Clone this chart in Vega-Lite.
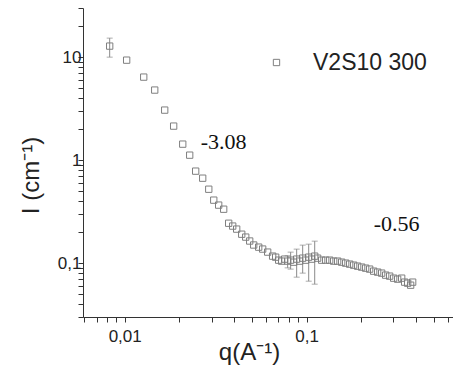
{
  "$schema": "https://vega.github.io/schema/vega-lite/v6.json",
  "width": 370,
  "height": 309,
  "autosize": "none",
  "padding": {"left": 83, "top": 8, "right": 0, "bottom": 54},
  "background": "white",
  "config": {
    "view": {"stroke": null},
    "axis": {"grid": false, "domainColor": "#333", "tickColor": "#333", "labelColor": "#222", "titleColor": "#222", "labelFont": "Liberation Sans", "labelFontSize": 17, "titleFont": "Liberation Sans", "titleFontSize": 24, "titleFontWeight": "normal"}
  },
  "datasets": {
    "pts": [
      {"q": 0.00827, "I": 12.8, "lo": 10.0, "hi": 15.3},
      {"q": 0.01025, "I": 9.35},
      {"q": 0.01272, "I": 6.40},
      {"q": 0.01462, "I": 4.79},
      {"q": 0.01659, "I": 3.06},
      {"q": 0.01858, "I": 2.14},
      {"q": 0.02084, "I": 1.43},
      {"q": 0.02276, "I": 1.118},
      {"q": 0.02455, "I": 0.782},
      {"q": 0.02683, "I": 0.668},
      {"q": 0.02897, "I": 0.522},
      {"q": 0.03086, "I": 0.409},
      {"q": 0.03284, "I": 0.366},
      {"q": 0.03499, "I": 0.334},
      {"q": 0.03727, "I": 0.244},
      {"q": 0.03922, "I": 0.229},
      {"q": 0.04124, "I": 0.214},
      {"q": 0.04396, "I": 0.191},
      {"q": 0.04624, "I": 0.179},
      {"q": 0.04863, "I": 0.164},
      {"q": 0.05116, "I": 0.150},
      {"q": 0.05449, "I": 0.143},
      {"q": 0.05731, "I": 0.137},
      {"q": 0.06105, "I": 0.128},
      {"q": 0.06501, "I": 0.117},
      {"q": 0.06755, "I": 0.1143},
      {"q": 0.07017, "I": 0.1069},
      {"q": 0.07287, "I": 0.1046},
      {"q": 0.07568, "I": 0.1094},
      {"q": 0.07861, "I": 0.1046, "lo": 0.090, "hi": 0.118},
      {"q": 0.08165, "I": 0.1069, "lo": 0.0875, "hi": 0.1279},
      {"q": 0.08482, "I": 0.1022},
      {"q": 0.08811, "I": 0.1094, "lo": 0.0731, "hi": 0.1368},
      {"q": 0.09152, "I": 0.1046},
      {"q": 0.09507, "I": 0.1118, "lo": 0.0800, "hi": 0.1496},
      {"q": 0.09874, "I": 0.1069},
      {"q": 0.1026, "I": 0.1143, "lo": 0.0668, "hi": 0.1529},
      {"q": 0.1065, "I": 0.1094},
      {"q": 0.1107, "I": 0.1169, "lo": 0.0625, "hi": 0.1635},
      {"q": 0.1149, "I": 0.1118},
      {"q": 0.1209, "I": 0.1069},
      {"q": 0.1272, "I": 0.1069},
      {"q": 0.1338, "I": 0.1069},
      {"q": 0.1407, "I": 0.1046},
      {"q": 0.1480, "I": 0.1046},
      {"q": 0.1557, "I": 0.1022},
      {"q": 0.1638, "I": 0.1000},
      {"q": 0.1723, "I": 0.0978},
      {"q": 0.1812, "I": 0.0956},
      {"q": 0.1906, "I": 0.0935},
      {"q": 0.2005, "I": 0.0915},
      {"q": 0.2109, "I": 0.0894},
      {"q": 0.2219, "I": 0.0875},
      {"q": 0.2334, "I": 0.0836},
      {"q": 0.2455, "I": 0.0818},
      {"q": 0.2583, "I": 0.0800},
      {"q": 0.2717, "I": 0.0765},
      {"q": 0.2858, "I": 0.0748},
      {"q": 0.3006, "I": 0.0715},
      {"q": 0.3162, "I": 0.0699},
      {"q": 0.3327, "I": 0.0715},
      {"q": 0.3455, "I": 0.0654},
      {"q": 0.3589, "I": 0.0639},
      {"q": 0.3727, "I": 0.0611},
      {"q": 0.3823, "I": 0.0654}
    ],
    "notes": [
      {"q": 0.035, "I": 1.5, "t": "-3.08"},
      {"q": 0.312, "I": 0.239, "t": "-0.56"}
    ]
  },
  "layer": [
    {
      "data": {"name": "pts"},
      "transform": [{"filter": "isValid(datum.lo)"}],
      "mark": {"type": "rule", "color": "#8a8a8a", "strokeWidth": 1},
      "encoding": {
        "x": {"field": "q", "type": "quantitative", "scale": {"type": "log", "domain": [0.0059, 0.637], "nice": false}},
        "y": {"field": "lo", "type": "quantitative", "scale": {"type": "log", "domain": [0.03, 30], "nice": false}},
        "y2": {"field": "hi"}
      }
    },
    {
      "data": {"name": "pts"},
      "transform": [{"filter": "isValid(datum.lo)"}],
      "mark": {"type": "tick", "orient": "horizontal", "color": "#8a8a8a", "thickness": 1, "size": 6},
      "encoding": {
        "x": {"field": "q", "type": "quantitative"},
        "y": {"field": "lo", "type": "quantitative"}
      }
    },
    {
      "data": {"name": "pts"},
      "transform": [{"filter": "isValid(datum.lo)"}],
      "mark": {"type": "tick", "orient": "horizontal", "color": "#8a8a8a", "thickness": 1, "size": 6},
      "encoding": {
        "x": {"field": "q", "type": "quantitative"},
        "y": {"field": "hi", "type": "quantitative"}
      }
    },
    {
      "data": {"name": "pts"},
      "mark": {"type": "point", "filled": false, "strokeWidth": 1, "size": 40, "opacity": 1},
      "encoding": {
        "x": {"field": "q", "type": "quantitative",
          "axis": {
            "values": [0.006, 0.007, 0.008, 0.009, 0.01, 0.02, 0.03, 0.04, 0.05, 0.06, 0.07, 0.08, 0.09, 0.1, 0.2, 0.3, 0.4, 0.5, 0.6],
            "labelExpr": "datum.value == 0.01 ? '0,01' : (datum.value == 0.1 ? '0,1' : '')",
            "labelOverlap": false, "labelFlush": false, "labelPadding": 6, "tickSize": 5,
            "title": "q(A⁻¹)", "titleX": 166, "titleY": 42, "titleAlign": "center", "titleBaseline": "alphabetic"
          }},
        "y": {"field": "I", "type": "quantitative",
          "axis": {
            "values": [0.03, 0.04, 0.05, 0.06, 0.07, 0.08, 0.09, 0.1, 0.2, 0.3, 0.4, 0.5, 0.6, 0.7, 0.8, 0.9, 1, 2, 3, 4, 5, 6, 7, 8, 9, 10, 20, 30],
            "labelExpr": "datum.value == 0.1 ? '0,1' : (datum.value == 1 ? '1' : (datum.value == 10 ? '10' : ''))",
            "labelOverlap": false, "labelFlush": false, "labelPadding": -3, "tickSize": 5,
            "title": "I (cm⁻¹)", "titleX": -45, "titleY": 167, "titleAngle": 270, "titleAlign": "center", "titleBaseline": "alphabetic"
          }},
        "color": {"datum": "V2S10 300", "type": "nominal", "scale": {"range": ["#7f7f7f"]},
          "legend": {"orient": "none", "legendX": 182, "legendY": 43, "title": null, "symbolType": "square", "symbolSize": 40, "symbolStrokeWidth": 1, "labelFont": "Liberation Sans", "labelFontSize": 23, "labelColor": "#222", "labelOffset": 25, "padding": 0}},
        "shape": {"value": "square"}
      }
    },
    {
      "data": {"name": "notes"},
      "mark": {"type": "text", "font": "Liberation Serif", "fontSize": 22, "color": "#111", "align": "center", "baseline": "middle"},
      "encoding": {
        "x": {"field": "q", "type": "quantitative"},
        "y": {"field": "I", "type": "quantitative"},
        "text": {"field": "t"}
      }
    }
  ]
}
